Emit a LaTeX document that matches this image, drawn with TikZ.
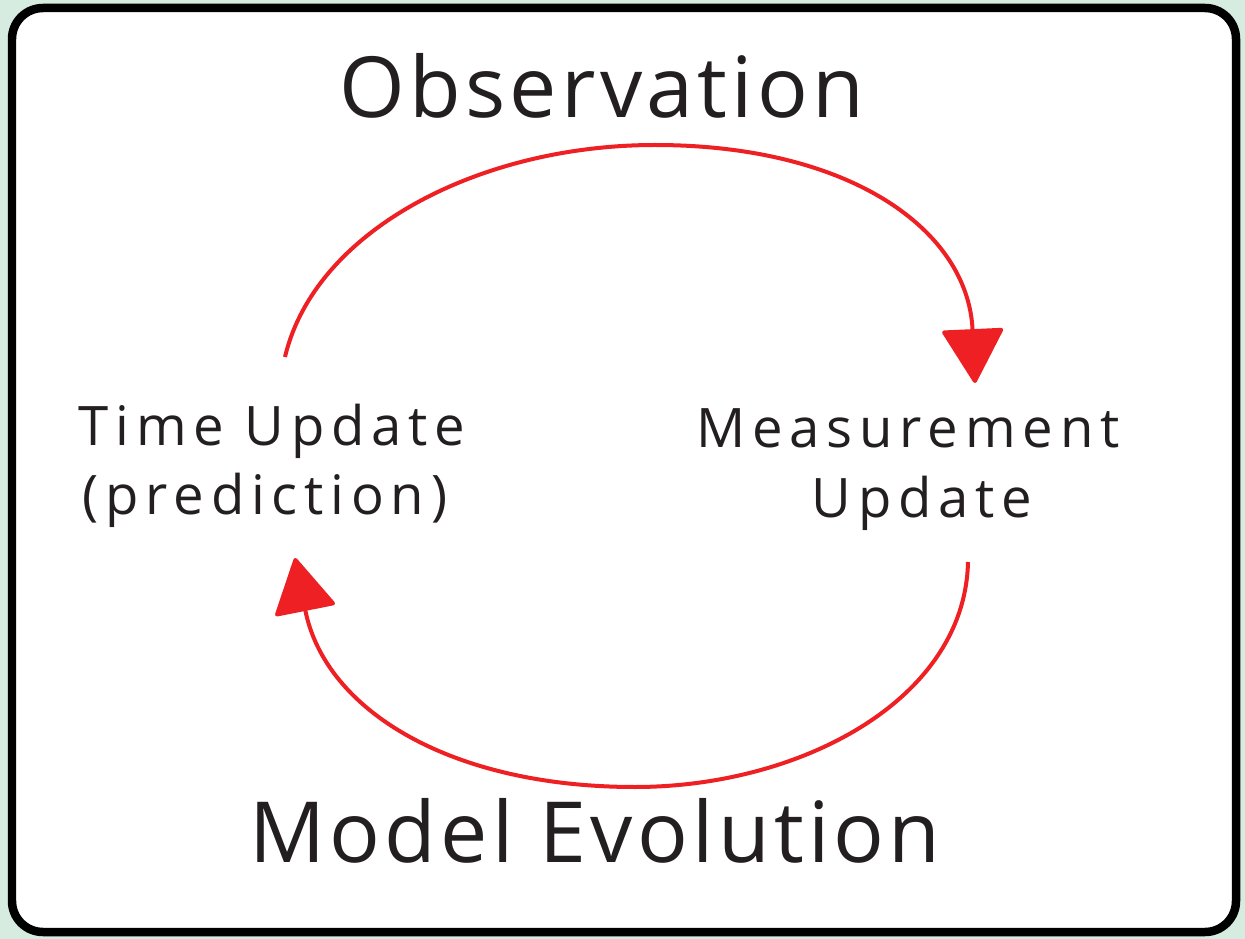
\documentclass[tikz,border=0pt]{standalone}
\usepackage{fontspec}
\setmainfont{Open Sans}
\usetikzlibrary{arrows.meta}
\definecolor{mint}{RGB}{214,236,224}
\definecolor{loopred}{RGB}{238,32,36}
\definecolor{ink}{RGB}{35,31,32}
\tikzset{
  frame/.style={draw=black, line width=0.17cm, fill=white, rounded corners=0.62cm},
  loop/.style={draw=loopred, line width=0.08cm,
    -{Triangle[length=1.12cm, width=1.26cm, round]}},
  smalltext/.style={text=ink, anchor=base, inner sep=0pt,
    font=\fontsize{31}{36}\selectfont\addfontfeatures{LetterSpace=12.5}},
  bigtext/.style={text=ink, anchor=base, inner sep=0pt,
    font=\fontsize{48}{56}\selectfont\addfontfeatures{LetterSpace=5}},
}
\begin{document}
\begin{tikzpicture}[x=0.02cm, y=-0.02cm]
  % canvas and framed panel
  \fill[mint] (0,0) rectangle (1245,939);
  \useasboundingbox (0,0) rectangle (1245,939);
  \path[frame] (12,8) rectangle (1236,932);

  % labels
  \node[bigtext] (obs) at (602,118) {Observation};
  \node[bigtext] (evo) at (595,862) {Model Evolution};
  \node[smalltext] (tu1) at (272,445) {Time Update};
  \node[smalltext] (tu2) at (265,514) {(prediction)};
  \node[smalltext] (mu1) at (908,447) {Measurement};
  \node[smalltext] (mu2) at (922,517) {Update};

  % loop end points
  \coordinate (tuTop) at (285,357);
  \coordinate (muIn) at (975,383);
  \coordinate (muBot) at (968,562);
  \coordinate (tuIn) at (295,558);

  % observation arc and model evolution arc
  \draw[loop] (tuTop) .. controls (315,230) and (480,145) .. (655,145)
              .. controls (850,145) and (968,230) .. (muIn);
  \draw[loop] (muBot) .. controls (965,700) and (800,787) .. (635,787)
              .. controls (450,787) and (325,710) .. (tuIn);
\end{tikzpicture}
\end{document}
